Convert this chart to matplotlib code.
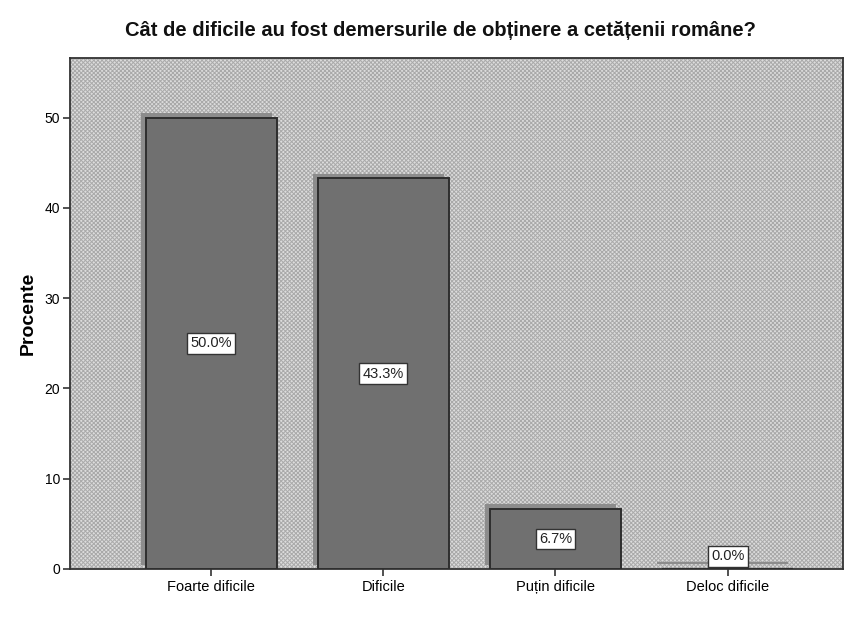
import matplotlib
matplotlib.use("Agg")
import matplotlib.pyplot as plt
import matplotlib.patheffects as pe

categories = ["Foarte dificile", "Dificile", "Puțin dificile", "Deloc dificile"]
values = [50.0, 43.3, 6.7, 0.0]
labels = ["50.0%", "43.3%", "6.7%", "0.0%"]
yticks = [0, 10, 20, 30, 40, 50]

plt.rcParams['font.family'] = ['Liberation Sans', 'DejaVu Sans']
plt.rcParams['hatch.linewidth'] = 0.7

fig = plt.figure(figsize=(8.45, 6.33), dpi=100)
ax = fig.add_axes([70/845, 1-569/633, (843-70)/845, (569-58)/633])
ax.set_facecolor('#dadada')
bg = plt.Rectangle((0, 0), 1, 1, transform=ax.transAxes, facecolor='#dcdcdc',
                   edgecolor='#a9a9a9', linewidth=0, hatch='xxxxxxxx', zorder=0.5)
ax.add_patch(bg)

x = list(range(len(categories)))
width = 0.76
bars = ax.bar(x, values, width=width, color='#707070', edgecolor='#2e2e2e',
              linewidth=1.4, zorder=3)
for b in bars:
    b.set_path_effects([pe.SimplePatchShadow(offset=(-3.5, 3), shadow_rgbFace='#8c8c8c', alpha=1.0),
                        pe.Normal()])

# zero-height bars: draw the shadow line explicitly
for xi, v in zip(x, values):
    if v == 0:
        ln = ax.hlines(v, xi - width / 2, xi + width / 2, colors='#2e2e2e', linewidth=1.6, zorder=3)
        ln.set_path_effects([pe.SimpleLineShadow(offset=(-3.5, 4.5), shadow_color='#8c8c8c', alpha=1.0),
                             pe.Normal()])

for xi, v, lab in zip(x, values, labels):
    y = v / 2 if v > 1.5 else 1.4
    ax.text(xi, y, lab, ha='center', va='center', fontsize=10.5, color='#222222', zorder=5,
            bbox=dict(boxstyle='square,pad=0.22', facecolor='white', edgecolor='#333333', linewidth=1.0))

ax.set_xlim(-0.82, 3.67)
ax.set_ylim(0, 56.6)
ax.set_yticks(yticks)
ax.set_xticks(x)
ax.set_xticklabels(categories, fontsize=10.5)
ax.tick_params(axis='y', labelsize=10, length=5, width=1.2, color='#333333', direction='out', pad=2)
ax.tick_params(axis='x', length=5, width=1.2, color='#333333', direction='out', pad=3)
for s in ax.spines.values():
    s.set_color('#333333')
    s.set_linewidth(1.3)
ax.set_ylabel("Procente", fontsize=14, fontweight='bold', labelpad=6)

fig.text(440/845, 1-31/633, "Cât de dificile au fost demersurile de obținere a cetățenii române?",
         ha='center', va='center', fontsize=14.5, fontweight='bold', color='#111111')

fig.savefig("out.png", dpi=100)
